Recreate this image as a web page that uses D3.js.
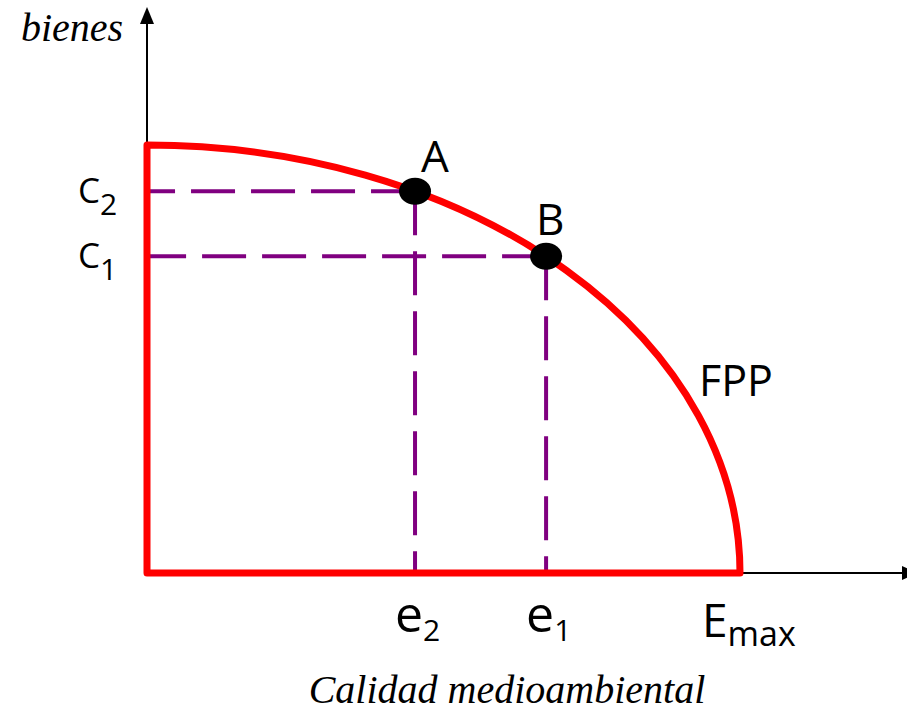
<!DOCTYPE html>
<html>
<head>
<meta charset="utf-8">
<script src="https://cdn.jsdelivr.net/npm/d3@7"></script>
<style>
  html, body { margin: 0; padding: 0; background: #fff; }
  svg { display: block; }
</style>
</head>
<body>
<svg id="chart" width="907" height="712"></svg>
<script>
// ---- data ----
const eMax = 100;                 // x-axis maximum (E_max)
const cMax = 100;                 // y-axis intercept of the FPP
const pointNames = ["A", "B"];
const pointE = [45.2, 67.3];      // e2, e1
const pointC = [89.2, 74.0];      // c2, c1
const xTickMain = ["e", "e", "E"];
const xTickSub = ["2", "1", "max"];
const xTickValues = [45.2, 67.3, 100];
const yTickMain = ["C", "C"];
const yTickSub = ["2", "1"];
const yTickValues = [89.2, 74.0];
const curveLabel = "FPP";
const xTitle = "Calidad medioambiental";
const yTitle = "bienes";

// ---- layout ----
const svg = d3.select("#chart");
const x = d3.scaleLinear().domain([0, eMax]).range([147, 740]);
const y = d3.scaleLinear().domain([0, cMax]).range([573, 145]);

const red = "#ff0000", purple = "#800080";
const sans = "'Open Sans', 'Noto Sans', sans-serif";
const serif = "'Liberation Serif', 'DejaVu Serif', serif";

// axes (black lines with arrowheads)
svg.append("line").attr("x1", x(0)).attr("y1", y(0)).attr("x2", x(0)).attr("y2", 20)
  .attr("stroke", "#000").attr("stroke-width", 2);
svg.append("path")
  .attr("d", `M${x(0)},7 L${x(0) - 7},24 L${x(0) + 7},24 Z`).attr("fill", "#000");
svg.append("line").attr("x1", x(0)).attr("y1", y(0)).attr("x2", 905).attr("y2", y(0))
  .attr("stroke", "#000").attr("stroke-width", 2);
svg.append("path")
  .attr("d", `M918,${y(0)} L902,${y(0) - 7} L902,${y(0) + 7} Z`).attr("fill", "#000");

// dashed guide lines
pointNames.forEach((n, i) => {
  const px = x(pointE[i]), py = y(pointC[i]);
  svg.append("line").attr("x1", px).attr("y1", py).attr("x2", x(0) + 3).attr("y2", py)
    .attr("stroke", purple).attr("stroke-width", 4).attr("stroke-dasharray", "44,16");
  svg.append("line").attr("x1", px).attr("y1", py).attr("x2", px).attr("y2", y(0) + 3)
    .attr("stroke", purple).attr("stroke-width", 4).attr("stroke-dasharray", "44,16");
});

// FPP boundary: vertical side, bottom side, quarter-ellipse frontier
const rx = x(eMax) - x(0), ry = y(0) - y(cMax);
svg.append("path")
  .attr("d", `M${x(0)},${y(cMax)} L${x(0)},${y(0)} L${x(eMax)},${y(0)} A${rx},${ry} 0 0 0 ${x(0)},${y(cMax)} Z`)
  .attr("fill", "none").attr("stroke", red).attr("stroke-width", 7)
  .attr("stroke-linejoin", "round");

// points
pointNames.forEach((n, i) => {
  svg.append("ellipse").attr("cx", x(pointE[i])).attr("cy", y(pointC[i]))
    .attr("rx", 16).attr("ry", 13.5).attr("fill", "#000");
});
// point labels
svg.append("text").attr("x", x(pointE[0]) + 6).attr("y", y(pointC[0]) - 19)
  .attr("font-family", sans).attr("font-size", 44).attr("fill", "#000").text(pointNames[0]);
svg.append("text").attr("x", x(pointE[1]) - 10).attr("y", y(pointC[1]) - 21)
  .attr("font-family", sans).attr("font-size", 44).attr("fill", "#000").text(pointNames[1]);

// curve label
svg.append("text").attr("x", 699).attr("y", 396)
  .attr("font-family", sans).attr("font-size", 43).attr("fill", "#000").text(curveLabel);

// y tick labels
yTickValues.forEach((v, i) => {
  const t = svg.append("text").attr("x", 78).attr("y", y(v) + 12)
    .attr("font-family", sans).attr("font-size", 35).attr("fill", "#000");
  t.append("tspan").text(yTickMain[i]);
  t.append("tspan").attr("dy", 12).attr("font-size", 30).text(yTickSub[i]);
});

// x tick labels
xTickValues.forEach((v, i) => {
  const isMax = i === 2;
  const t = svg.append("text").attr("x", x(v) - (isMax ? 38 : 20)).attr("y", isMax ? 637 : 632)
    .attr("font-family", sans).attr("font-size", isMax ? 46 : 50).attr("fill", "#000");
  t.append("tspan").text(xTickMain[i]);
  t.append("tspan").attr("dy", 9).attr("font-size", isMax ? 34 : 30).text(xTickSub[i]);
});

// axis titles
svg.append("text").attr("x", 21).attr("y", 41)
  .attr("font-family", serif).attr("font-style", "italic").attr("font-size", 40)
  .attr("fill", "#000").text(yTitle);
svg.append("text").attr("x", 507).attr("y", 703).attr("text-anchor", "middle")
  .attr("font-family", serif).attr("font-style", "italic").attr("font-size", 40)
  .attr("fill", "#000").text(xTitle);
</script>
</body>
</html>
